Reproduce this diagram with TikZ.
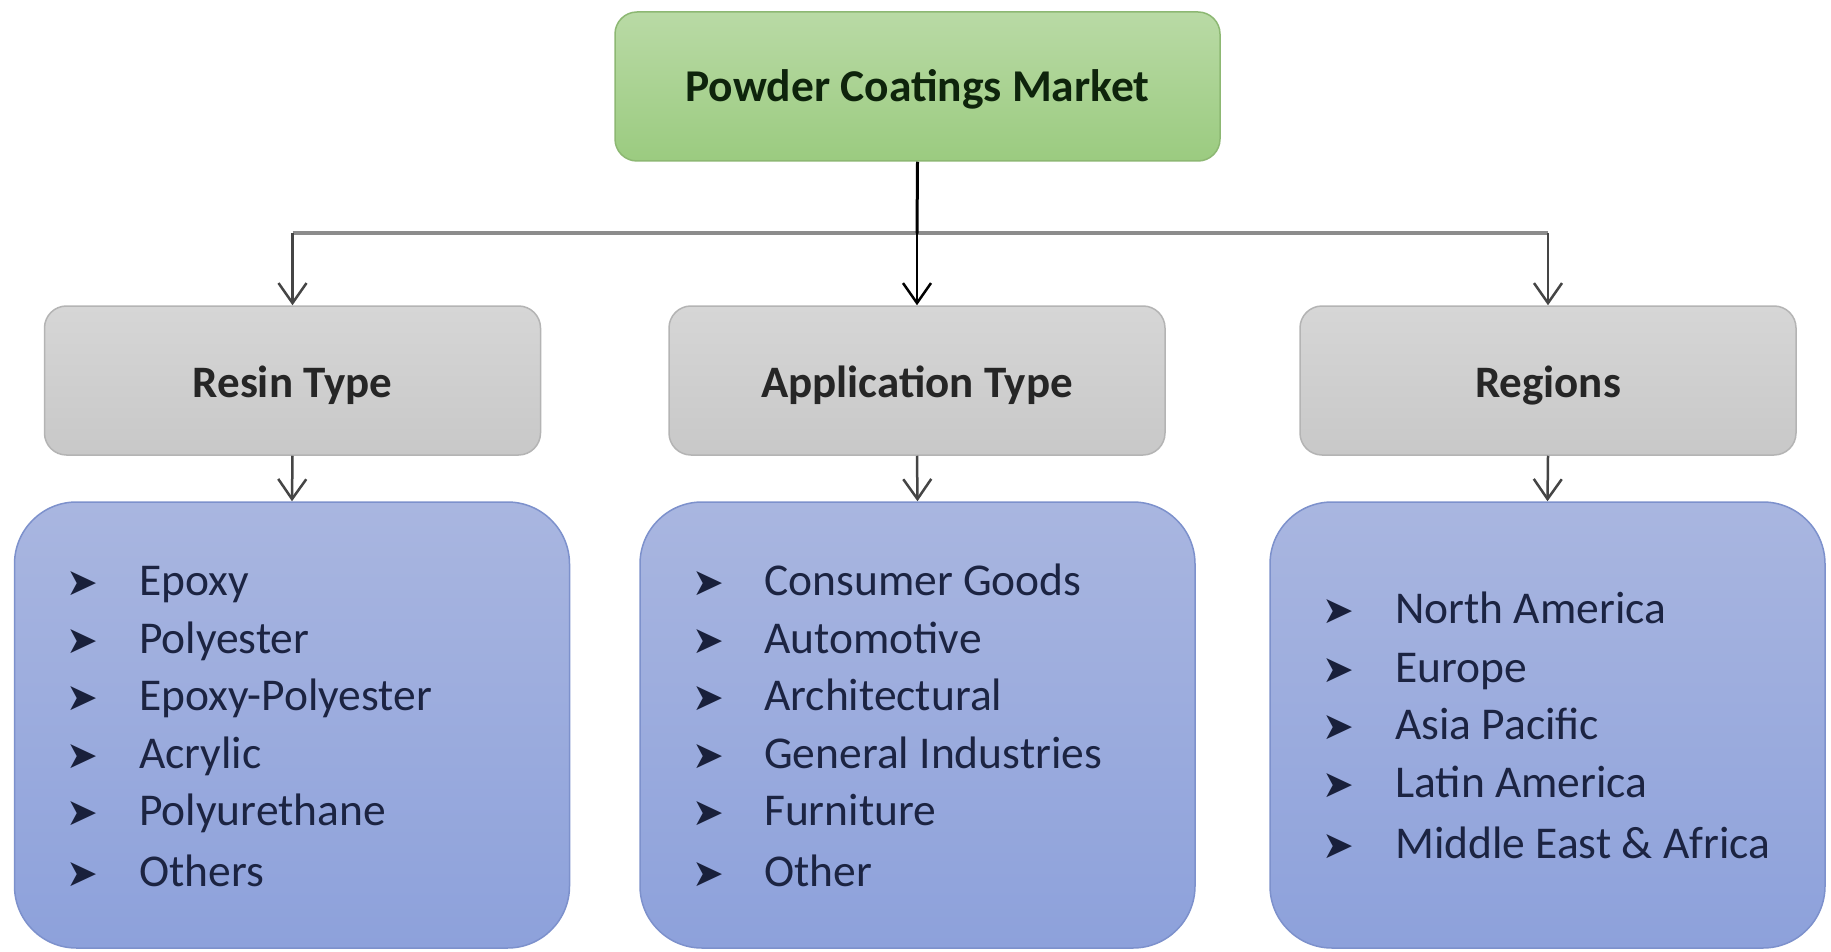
\documentclass[tikz,border=0pt]{standalone}
\usepackage{fontspec}
\setmainfont{Carlito}
\newfontfamily\dejavu{DejaVu Sans}
\usetikzlibrary{arrows.meta}
\definecolor{greentop}{HTML}{B9DAA5}
\definecolor{greenbot}{HTML}{9BCB80}
\definecolor{greenline}{HTML}{8DB873}
\definecolor{titletext}{HTML}{0E240C}
\definecolor{graytop}{HTML}{D6D6D6}
\definecolor{graybot}{HTML}{C8C8C8}
\definecolor{grayline}{HTML}{B4B4B4}
\definecolor{bluetop}{HTML}{A9B6E0}
\definecolor{bluebot}{HTML}{8DA1DB}
\definecolor{blueline}{HTML}{7D91CC}
\definecolor{itemtext}{HTML}{1C2442}
\definecolor{connline}{HTML}{8C8C8C}
\definecolor{arrowcol}{HTML}{454545}
\begin{document}
\begin{tikzpicture}[x=1pt,y=-1pt,
  topbox/.style={rounded corners=22pt, draw=greenline, line width=1.5pt, top color=greentop, bottom color=greenbot,
    minimum width=605pt, minimum height=149pt, inner sep=0pt, text height=33pt, text depth=2pt,
    font=\fontsize{45.5}{52}\selectfont\bfseries, text=titletext},
  catbox/.style={rounded corners=22pt, draw=grayline, line width=1.5pt, top color=graytop, bottom color=graybot,
    minimum width=496pt, minimum height=149pt, inner sep=0pt, text height=36pt, text depth=2pt,
    font=\fontsize{45}{52}\selectfont\bfseries, text=black!85},
  listbox/.style={rounded corners=62pt, draw=blueline, line width=1.5pt, top color=bluetop, bottom color=bluebot,
    minimum width=555pt, minimum height=446pt, inner sep=0pt},
  itemtext/.style={anchor=base west, inner sep=0pt, font=\fontsize{45.5}{52}\selectfont, text=itemtext},
  bullet/.style={anchor=base, inner sep=0pt, font=\dejavu\fontsize{38}{44}\selectfont, text=itemtext!90!black},
  mainline/.style={line width=3pt, black},
  branch/.style={line width=4pt, connline},
  downarrow/.style={line width=2.5pt, arrowcol, -{Straight Barb[length=20pt,width=28pt,line width=2.5pt]}}
]
\useasboundingbox (0,0) rectangle (1831,952);
\fill[white] (0,0) rectangle (1831,952);

\node[topbox] (top) at (917.5,86.5) {Powder Coatings Market};

\node[catbox] (resin) at (292.5,380.5) {Resin Type};
\node[catbox] (app) at (917,380.5) {Application Type};
\node[catbox] (reg) at (1548,380.5) {Regions};

\node[listbox] (resinlist) at (292,725) {};
\node[listbox] (applist) at (917.5,725) {};
\node[listbox] (reglist) at (1547.5,725) {};

\coordinate (jl) at (resin.north |- 0,233.5);
\coordinate (jc) at (app.north |- 0,233.5);
\coordinate (jr) at (reg.north |- 0,233.5);

\draw[branch] (jl) -- (jr);
\draw[downarrow] (jl) -- (resin.north);
\draw[downarrow] (jr) -- (reg.north);
\draw[mainline] (top.south) -- (jc);
\draw[downarrow, black] (jc) -- (app.north);

\draw[downarrow] (resin.south) -- (resinlist.north);
\draw[downarrow] (app.south) -- (applist.north);
\draw[downarrow] (reg.south) -- (reglist.north);

\foreach \t/\y [count=\i] in {Epoxy/595, Polyester/653, Epoxy-Polyester/710, Acrylic/768, Polyurethane/825, Others/886} {
  \node[bullet] (rb\i) at (82,\y) {➤};
  \node[itemtext] (ri\i) at (139,\y) {\t};
}
\foreach \t/\y [count=\i] in {Consumer Goods/595, Automotive/653, Architectural/710, General Industries/768, Furniture/825, Other/886} {
  \node[bullet] (ab\i) at (708,\y) {➤};
  \node[itemtext] (ai\i) at (764,\y) {\t};
}
\foreach \t/\y [count=\i] in {North America/623, Europe/682, Asia Pacific/739, Latin America/797, Middle East \& Africa/858} {
  \node[bullet] (gb\i) at (1338,\y) {➤};
  \node[itemtext] (gi\i) at (1395,\y) {\t};
}
\end{tikzpicture}
\end{document}
